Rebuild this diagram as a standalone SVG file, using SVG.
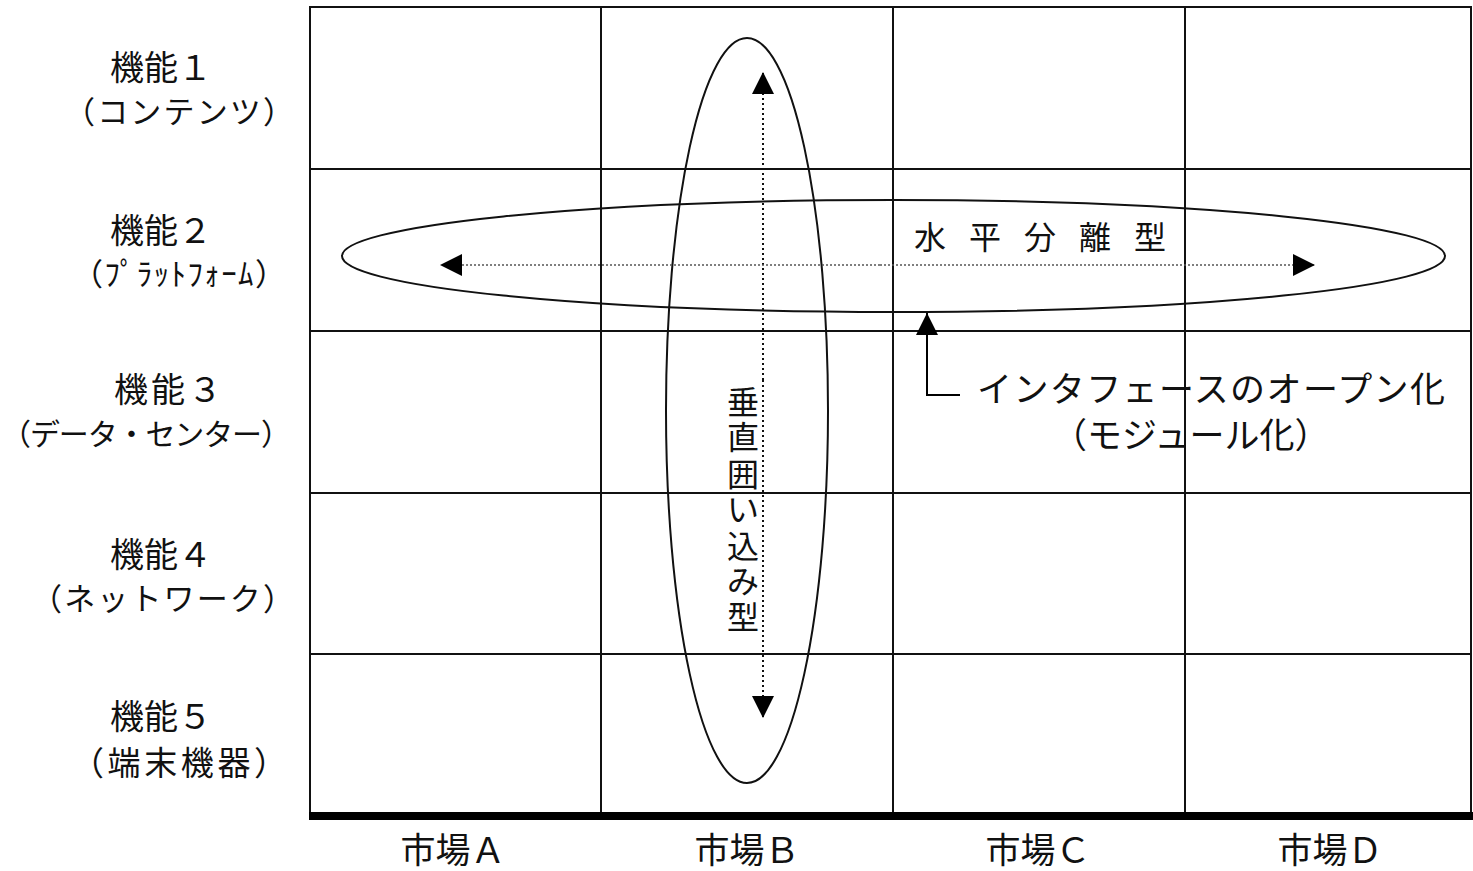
<svg xmlns="http://www.w3.org/2000/svg" width="1473" height="871" viewBox="0 0 1473 871">
<style>
text{font-family:"Noto Sans CJK JP","Noto Sans",sans-serif;fill:#111;}
.fn{font-size:34px;}
.sub{font-size:31px;}
.mk{font-size:35px;text-anchor:middle;}
.grid{stroke:#111;stroke-width:2;fill:none;}
.ell{stroke:#111;stroke-width:2;fill:none;}
.dot{stroke:#111;stroke-width:2;stroke-dasharray:2 3;fill:none;}
.dot2{stroke:#555;stroke-width:1.5;stroke-dasharray:2 2;fill:none;}
</style>
<defs>
<marker id="ah" viewBox="0 0 10 10" refX="10" refY="5" markerWidth="22" markerHeight="22" markerUnits="userSpaceOnUse" orient="auto">
<path d="M0,0 L10,5 L0,10 Z" fill="#000"/>
</marker>
</defs>
<rect width="1473" height="871" fill="#fff"/>
<g id="grid">
<line class="grid" x1="310" y1="7" x2="1471" y2="7"/>
<line class="grid" x1="310" y1="169" x2="1471" y2="169"/>
<line class="grid" x1="310" y1="331" x2="1471" y2="331"/>
<line class="grid" x1="310" y1="493" x2="1471" y2="493"/>
<line class="grid" x1="310" y1="654" x2="1471" y2="654"/>
<line class="grid" x1="310" y1="6" x2="310" y2="816"/>
<line class="grid" x1="601" y1="6" x2="601" y2="816"/>
<line class="grid" x1="893" y1="6" x2="893" y2="816"/>
<line class="grid" x1="1185" y1="6" x2="1185" y2="816"/>
<line class="grid" x1="1471" y1="6" x2="1471" y2="816"/>
<line x1="309" y1="816" x2="1473" y2="816" stroke="#000" stroke-width="8"/>
</g>
<g id="row-labels">
<g id="func1"><text class="fn" x="110" y="80">機能１</text><text class="sub" x="64" y="123" textLength="230">（コンテンツ）</text></g>
<g id="func2"><text class="fn" x="110" y="243">機能２</text><text class="sub" x="72" y="285" textLength="214">（ﾌﾟﾗｯﾄﾌｫｰﾑ）</text></g>
<g id="func3"><text class="fn" x="114" y="402" textLength="108">機能３</text><text class="sub" style="font-size:30px" x="1" y="445" textLength="290">（データ・センター）</text></g>
<g id="func4"><text class="fn" x="110" y="567">機能４</text><text class="sub" x="31" y="610" textLength="263">（ネットワーク）</text></g>
<g id="func5"><text class="fn" x="110" y="729">機能５</text><text class="sub" style="font-size:33px" x="71" y="775" textLength="216">（端末機器）</text></g>
</g>
<g id="col-labels">
<g id="mktA"><text class="mk" x="453" y="863">市場Ａ</text></g>
<g id="mktB"><text class="mk" x="747" y="863">市場Ｂ</text></g>
<g id="mktC"><text class="mk" x="1038" y="863">市場Ｃ</text></g>
<g id="mktD"><text class="mk" x="1330" y="863">市場Ｄ</text></g>
</g>
<g id="vertical-type">
<ellipse class="ell" cx="747" cy="410.5" rx="81" ry="372.5"/>
<text style="font-size:32px" text-anchor="middle" x="743 743 743 743 743 743 743" y="414 449 486 521 558 593 629">垂直囲い込み型</text>
</g>
<g id="horizontal-type">
<ellipse class="ell" cx="893.5" cy="256" rx="551.5" ry="56"/>
<text style="font-size:32px" x="914 969 1024 1079 1134" y="249">水平分離型</text>
</g>
<g id="interface-label">
<text style="font-size:35px" x="977" y="402" textLength="468">インタフェースのオープン化</text>
<text style="font-size:35px" x="1052" y="448">（モジュール化）</text>
</g>
<g id="connectors">
<line class="dot" x1="763" y1="380" x2="763" y2="72" marker-end="url(#ah)"/>
<line class="dot" x1="763" y1="380" x2="763" y2="718" marker-end="url(#ah)"/>
<line class="dot2" x1="880" y1="265" x2="440" y2="265" marker-end="url(#ah)"/>
<line class="dot2" x1="880" y1="265" x2="1315" y2="265" marker-end="url(#ah)"/>
<polyline points="960,395 927,395 927,313" fill="none" stroke="#000" stroke-width="2" marker-end="url(#ah)"/>
</g>
</svg>
